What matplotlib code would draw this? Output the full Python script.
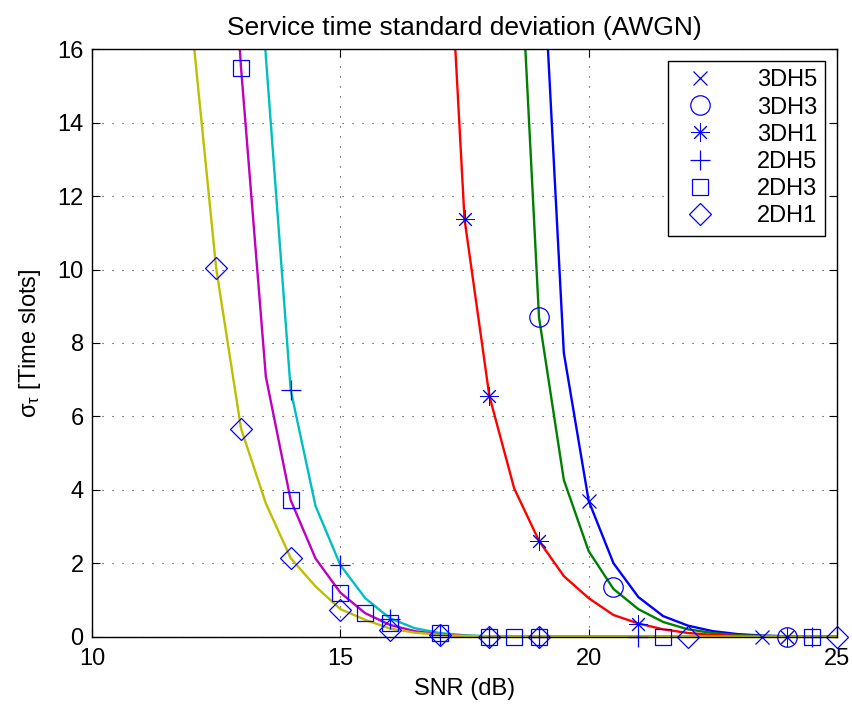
import numpy as np
import matplotlib
matplotlib.use("Agg")
import matplotlib.pyplot as plt

plt.rcParams['font.family'] = ['Liberation Sans', 'DejaVu Sans']
plt.rcParams['mathtext.fontset'] = 'custom'
plt.rcParams['mathtext.rm'] = 'Liberation Sans'
plt.rcParams['mathtext.it'] = 'Liberation Sans'
plt.rcParams['font.size'] = 17

# analytical curves, 0.5 dB grid
snr_2dh = [11.5, 12, 12.5, 13, 13.5, 14, 14.5, 15, 15.5, 16, 16.5, 17, 17.5, 18,
           18.5, 19, 19.5, 20, 20.5, 21, 21.5, 22, 22.5, 23, 23.5, 24, 24.5, 25]
curve_2dh1 = [28, 16.8, 10.03, 5.67, 3.63, 2.14, 1.37, 0.75, 0.46, 0.22, 0.11, 0.05, 0.02, 0.01,
              0, 0, 0, 0, 0, 0, 0, 0, 0, 0, 0, 0, 0, 0]
curve_2dh3 = [60, 40, 26, 15.5, 7.08, 3.72, 2.13, 1.2, 0.64, 0.32, 0.15, 0.06, 0.02, 0.01,
              0, 0, 0, 0, 0, 0, 0, 0, 0, 0, 0, 0, 0, 0]
curve_2dh5 = [80, 55, 38, 27, 15.8, 6.72, 3.56, 1.95, 1.05, 0.5, 0.23, 0.1, 0.04, 0.01,
              0, 0, 0, 0, 0, 0, 0, 0, 0, 0, 0, 0, 0, 0]

snr_3dh = [16.5, 17, 17.5, 18, 18.5, 19, 19.5, 20, 20.5, 21, 21.5, 22, 22.5, 23, 23.5, 24, 24.5, 25]
curve_3dh1 = [38, 23.9, 11.38, 6.56, 4.04, 2.61, 1.65, 1.05, 0.59, 0.36, 0.2, 0.1, 0.05, 0.02, 0.01, 0, 0, 0]
curve_3dh3 = [60, 45, 35, 28, 22, 8.7, 4.27, 2.33, 1.3, 0.75, 0.4, 0.2, 0.1, 0.04, 0.02, 0.01, 0, 0]
curve_3dh5 = [80, 60, 45, 35, 28, 20.66, 7.73, 3.7, 2.0, 1.08, 0.56, 0.3, 0.15, 0.07, 0.03, 0.01, 0, 0]

# simulated points
sim_3dh5_x = [20, 23.5]
sim_3dh5_y = [3.7, 0.0]
sim_3dh3_x = [19, 20.5, 24]
sim_3dh3_y = [8.7, 1.35, 0.0]
sim_3dh1_x = [17.5, 18, 19, 21, 24]
sim_3dh1_y = [11.38, 6.56, 2.61, 0.35, 0.0]
sim_2dh5_x = [14, 15, 16, 17, 18, 19, 21, 24.5]
sim_2dh5_y = [6.72, 1.95, 0.48, 0.05, 0.0, 0.0, 0.0, 0.0]
sim_2dh3_x = [13, 14, 15, 15.5, 16, 17, 18, 18.5, 19, 21.5, 24.5]
sim_2dh3_y = [15.5, 3.72, 1.2, 0.64, 0.36, 0.1, 0.0, 0.0, 0.0, 0.0, 0.0]
sim_2dh1_x = [12.5, 13, 14, 15, 16, 17, 18, 19, 22, 25]
sim_2dh1_y = [10.03, 5.67, 2.14, 0.74, 0.18, 0.04, 0.0, 0.0, 0.0, 0.0]

fig = plt.figure(figsize=(8.53, 7.06), dpi=100)
ax = fig.add_axes([0.1079, 0.0982, 0.8733, 0.832])

lw = 1.7
ax.plot(snr_3dh, curve_3dh5, color='#0000FF', lw=lw)
ax.plot(snr_3dh, curve_3dh3, color='#008000', lw=lw)
ax.plot(snr_3dh, curve_3dh1, color='#FF0000', lw=lw)
ax.plot(snr_2dh, curve_2dh5, color='#00BFBF', lw=lw)
ax.plot(snr_2dh, curve_2dh3, color='#BF00BF', lw=lw)
ax.plot(snr_2dh, curve_2dh1, color='#BFBF00', lw=lw)

mk = dict(linestyle='none', color='#0000FF', markerfacecolor='none',
          markeredgecolor='#0000FF', markeredgewidth=0.9, clip_on=False)
ax.plot(sim_3dh5_x, sim_3dh5_y, marker='x', markersize=10, label='3DH5', **mk)
ax.plot(sim_3dh3_x, sim_3dh3_y, marker='o', markersize=14, label='3DH3', **mk)
ax.plot(sim_3dh1_x, sim_3dh1_y, marker=(8, 2, 0), markersize=13, label='3DH1',
        **{**mk, 'markeredgewidth': 0.7})
ax.plot(sim_2dh5_x, sim_2dh5_y, marker='+', markersize=15, label='2DH5', **mk)
ax.plot(sim_2dh3_x, sim_2dh3_y, marker='s', markersize=11, label='2DH3', **mk)
ax.plot(sim_2dh1_x, sim_2dh1_y, marker='D', markersize=11, label='2DH1', **mk)

ax.set_xlim(10, 25)
ax.set_ylim(0, 16)
ax.set_xticks([10, 15, 20, 25])
ax.set_yticks(np.arange(0, 17, 2))
ax.tick_params(direction='in', top=True, right=True, length=6, width=0.8, labelsize=17)
ax.tick_params(axis='x', pad=8)
ax.tick_params(axis='y', pad=6)
ax.grid(True, color='0.2', linestyle=(0, (1, 8)), lw=0.8)
for sp in ax.spines.values():
    sp.set_linewidth(1.0)

ax.set_title('Service time standard deviation (AWGN)', fontsize=19, pad=10)
ax.set_xlabel('SNR (dB)', fontsize=17, labelpad=6)
ax.set_ylabel(r'$\mathrm{σ_τ}$ [Time slots]', fontsize=17, labelpad=10)

leg = ax.legend(loc='upper right', fancybox=False, edgecolor='black', framealpha=1,
                labelspacing=0.22, handletextpad=1.4, borderpad=0.35)
leg.get_frame().set_linewidth(1.0)

fig.savefig('out.png', dpi=100)
